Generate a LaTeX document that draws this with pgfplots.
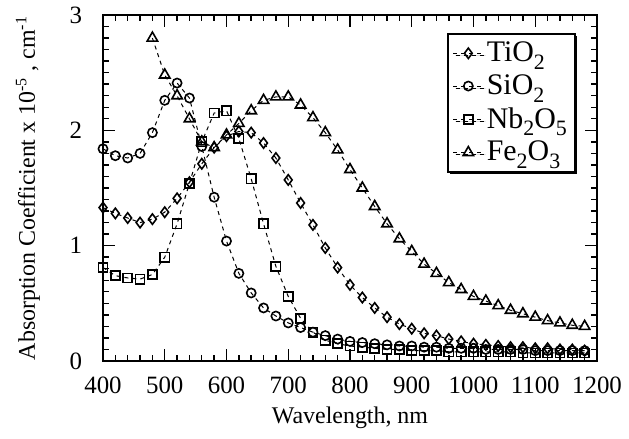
\documentclass[border=0pt]{standalone}
\usepackage{fontspec}
\setmainfont{Liberation Serif}
\usepackage{pgfplots}
\pgfplotsset{compat=1.18}
\usetikzlibrary{shadows}
\newcommand\sub[1]{\raisebox{-0.55ex}{\fontsize{11}{11}\selectfont #1}}

\begin{document}
\begin{tikzpicture}
\path[use as bounding box] (-51.5bp,-39bp) rectangle (263bp,180.5bp);
\begin{axis}[
  at={(0,0)}, anchor=south west,
  width=247bp, height=173bp, scale only axis,
  xmin=400, xmax=1200, ymin=0, ymax=3,
  xtick={400,500,...,1200}, ytick={0,1,2,3},
  minor x tick num=4, minor y tick num=9,
  major tick length=6bp, minor tick length=3bp,
  tick style={line width=0.7bp, black},
  axis line style={line width=1.4bp},
  /pgf/number format/assume math mode=true,
  /pgf/number format/1000 sep={},
  tick label style={font=\fontsize{12.5}{14}\selectfont},
  xticklabel style={yshift=-4.5bp},
  yticklabel style={xshift=-7bp},
  label style={font=\fontsize{12}{14}\selectfont},
  xlabel={Wavelength, nm},
  ylabel={Absorption Coefficient x 10\textsuperscript{-5} , cm\textsuperscript{-1}},
  ylabel style={at={(axis description cs:-0.152,0.5)}, anchor=center},
  xlabel style={at={(axis description cs:0.5,-0.165)}, anchor=center},
  every axis plot/.append style={black, line width=0.5bp, dash pattern=on 2bp off 2bp,
     mark options={solid, line width=0.8bp, fill=white}},
  legend image code/.code={\draw[mark repeat=2,mark phase=2] plot coordinates {(0bp,0bp)(7.5bp,0bp)(15bp,0bp)};},
  legend cell align=left,
  legend style={at={(0.957,0.948)}, anchor=north east, draw=black, line width=0.9bp,
     font=\fontsize{15}{17}\selectfont, row sep=2bp, inner sep=2.5bp,
     nodes={inner xsep=1.5bp, inner ysep=1.5bp},
     drop shadow={shadow xshift=1.2bp, shadow yshift=-1.2bp, fill=black, opacity=1}},
]
\addplot[mark=diamond, mark size=2.6bp] coordinates {
(400,1.33)(420,1.28)(440,1.24)(460,1.20)(480,1.23)(500,1.29)(520,1.41)(540,1.55)
(560,1.71)(580,1.85)(600,1.95)(620,1.99)(640,1.98)(660,1.89)(680,1.76)(700,1.57)
(720,1.37)(740,1.18)(760,0.98)(780,0.81)(800,0.66)(820,0.55)(840,0.46)(860,0.38)
(880,0.32)(900,0.28)(920,0.24)(940,0.22)(960,0.19)(980,0.17)(1000,0.15)(1020,0.14)
(1040,0.13)(1060,0.12)(1080,0.12)(1100,0.11)(1120,0.11)(1140,0.10)(1160,0.10)(1180,0.09)};
\addlegendentry{TiO\sub{2}}
\addplot[mark=o, mark size=2.3bp] coordinates {
(400,1.84)(420,1.78)(440,1.76)(460,1.80)(480,1.98)(500,2.26)(520,2.41)(540,2.28)
(560,1.86)(580,1.42)(600,1.04)(620,0.76)(640,0.59)(660,0.46)(680,0.39)(700,0.33)
(720,0.29)(740,0.25)(760,0.22)(780,0.19)(800,0.17)(820,0.16)(840,0.15)(860,0.14)
(880,0.13)(900,0.13)(920,0.12)(940,0.12)(960,0.11)(980,0.11)(1000,0.11)(1020,0.10)
(1040,0.10)(1060,0.10)(1080,0.10)(1100,0.09)(1120,0.09)(1140,0.09)(1160,0.09)(1180,0.09)};
\addlegendentry{SiO\sub{2}}
\addplot[mark=square, mark size=2.3bp] coordinates {
(400,0.81)(420,0.74)(440,0.72)(460,0.71)(480,0.75)(500,0.90)(520,1.19)(540,1.54)
(560,1.90)(580,2.15)(600,2.17)(620,1.93)(640,1.58)(660,1.19)(680,0.82)(700,0.56)
(720,0.37)(740,0.25)(760,0.18)(780,0.15)(800,0.13)(820,0.12)(840,0.11)(860,0.10)
(880,0.10)(900,0.09)(920,0.09)(940,0.09)(960,0.08)(980,0.08)(1000,0.08)(1020,0.08)
(1040,0.08)(1060,0.08)(1080,0.07)(1100,0.07)(1120,0.07)(1140,0.07)(1160,0.07)(1180,0.07)};
\addlegendentry{Nb\sub{2}O\sub{5}}
\addplot[mark=triangle, mark size=3bp] coordinates {
(480,2.80)(500,2.48)(520,2.30)(540,2.10)(560,1.90)(580,1.85)(600,1.96)(620,2.06)
(640,2.17)(660,2.26)(680,2.29)(700,2.29)(720,2.22)(740,2.11)(760,1.98)(780,1.83)
(800,1.66)(820,1.50)(840,1.34)(860,1.19)(880,1.06)(900,0.95)(920,0.84)(940,0.76)
(960,0.68)(980,0.62)(1000,0.56)(1020,0.52)(1040,0.48)(1060,0.44)(1080,0.41)(1100,0.38)
(1120,0.35)(1140,0.33)(1160,0.31)(1180,0.30)};
\addlegendentry{Fe\sub{2}O\sub{3}}
\end{axis}
\end{tikzpicture}
\end{document}
